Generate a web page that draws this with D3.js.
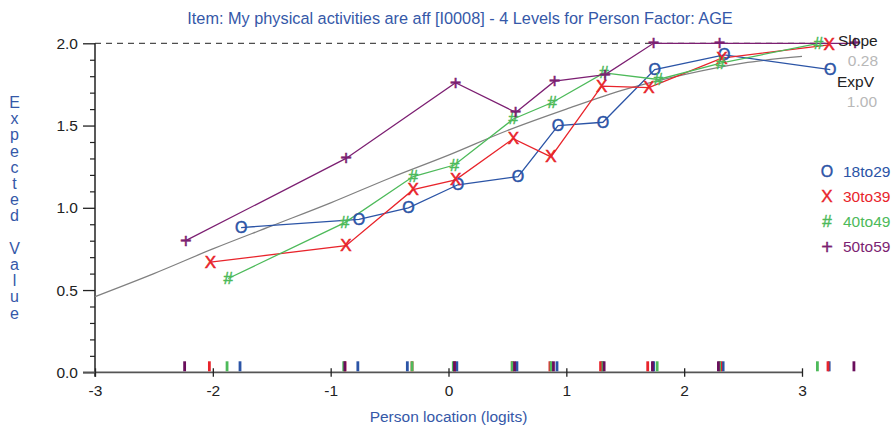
<!DOCTYPE html>
<html>
<head>
<meta charset="utf-8">
<script src="https://cdn.jsdelivr.net/npm/d3@7"></script>
<style>
  html, body { margin: 0; padding: 0; background: #fff; }
  svg { display: block; }
  text { font-family: "Liberation Sans", Arial, Helvetica, sans-serif; }
</style>
</head>
<body>
<svg id="chart" width="895" height="426"></svg>
<script>
// ---------------- data ----------------
const titleText = "Item: My physical activities are aff [I0008] - 4 Levels for Person Factor: AGE";
const xLabel = "Person location (logits)";
const yLabel = "Expected Value";
const xTicks = [-3, -2, -1, 0, 1, 2, 3];
const yTicks = [0.0, 0.5, 1.0, 1.5, 2.0];
const groups = ["18to29", "30to39", "40to49", "50to59"];
const glyphs = ["O", "X", "#", "+"];

// class-interval locations (logits) and observed means, per group
const loc18to29 = [-1.76, -0.76, -0.34, 0.08, 0.59, 0.93, 1.31, 1.75, 2.34, 3.24];
const obs18to29 = [0.88, 0.93, 1.00, 1.14, 1.19, 1.50, 1.52, 1.84, 1.93, 1.84];
const loc30to39 = [-2.02, -0.87, -0.30, 0.06, 0.55, 0.87, 1.30, 1.70, 2.32, 3.23];
const obs30to39 = [0.67, 0.77, 1.11, 1.17, 1.42, 1.31, 1.74, 1.73, 1.91, 1.99];
const loc40to49 = [-1.87, -0.88, -0.30, 0.05, 0.55, 0.88, 1.32, 1.78, 2.31, 3.14];
const obs40to49 = [0.57, 0.91, 1.19, 1.26, 1.54, 1.64, 1.82, 1.78, 1.88, 2.00];
const loc50to59 = [-2.23, -0.87, 0.06, 0.57, 0.90, 1.33, 1.74, 2.30, 3.45];
const obs50to59 = [0.80, 1.30, 1.76, 1.58, 1.77, 1.81, 2.00, 2.00, 2.00];

// expected value curve
const curveLoc = [-3, -2.5, -2, -1.5, -1, -0.5, 0, 0.5, 1, 1.5, 2, 2.5, 3];
const curveVal = [0.46, 0.60, 0.75, 0.89, 1.03, 1.18, 1.32, 1.47, 1.60, 1.72, 1.81, 1.88, 1.92];

const slopeLabel = "Slope", slopeValue = "0.28";
const expvLabel = "ExpV", expvValue = "1.00";
const maxScore = 2.0;

// ---------------- styles ----------------
const colors = ["#2b54a6", "#e8242b", "#4dba5a", "#7c1f72"];
const rugColors = ["#2b54a6", "#e8242b", "#4dba5a", "#6a0e5c"];
const glyphSize = [16, 17, 17, 20];
const blueText = "#3558a8";

const series = [
  { loc: loc18to29, obs: obs18to29 },
  { loc: loc30to39, obs: obs30to39 },
  { loc: loc40to49, obs: obs40to49 },
  { loc: loc50to59, obs: obs50to59 }
].map((s, i) => ({ name: groups[i], glyph: glyphs[i], color: colors[i], rug: rugColors[i], size: glyphSize[i],
  points: s.loc.map((l, j) => ({ x: l, y: s.obs[j] })) }));

const svg = d3.select("#chart");
const x = d3.scaleLinear().domain([-3, 3]).range([95, 802]);
const y = d3.scaleLinear().domain([0, 2]).range([372.3, 43.3]);

// title
svg.append("text").attr("x", 460).attr("y", 23.5).attr("text-anchor", "middle")
  .attr("font-size", 16.3).attr("fill", blueText).text(titleText);

// dashed max line
svg.append("line").attr("x1", x(-3)).attr("x2", x(3.2)).attr("y1", y(maxScore)).attr("y2", y(maxScore))
  .attr("stroke", "#222").attr("stroke-width", 1).attr("stroke-dasharray", "6,5");

// y axis
const yAxis = d3.axisLeft(y).tickValues(yTicks).tickFormat(d3.format(".1f")).tickSize(12).tickPadding(5);
const gy = svg.append("g").attr("transform", `translate(${x(-3)},0)`).call(yAxis);
gy.select(".domain").remove();
gy.selectAll(".tick line").attr("stroke", "#222").attr("stroke-width", 1.3);
gy.selectAll(".tick text").attr("font-size", 15.5).attr("fill", "#222")
  .attr("font-family", "Liberation Sans, Arial, sans-serif");
const yMinor = d3.axisLeft(y).tickValues(d3.range(0, 2.0001, 0.1).filter(v => Math.round(v * 10) % 5 !== 0))
  .tickSize(5).tickFormat("");
const gym = svg.append("g").attr("transform", `translate(${x(-3)},0)`).call(yMinor);
gym.select(".domain").remove();
gym.selectAll(".tick line").attr("stroke", "#222").attr("stroke-width", 1.2);
svg.append("line").attr("x1", x(-3)).attr("x2", x(-3)).attr("y1", y(2)).attr("y2", y(0) + 4.5)
  .attr("stroke", "#222").attr("stroke-width", 1.5);

// x axis
svg.append("line").attr("x1", x(-3) - 12).attr("x2", x(3)).attr("y1", y(0)).attr("y2", y(0))
  .attr("stroke", "#555").attr("stroke-width", 1.8);
const xAxis = d3.axisBottom(x).tickValues(xTicks).tickFormat(d3.format("d")).tickSize(4.5).tickPadding(8);
const gx = svg.append("g").attr("transform", `translate(0,${y(0)})`).call(xAxis);
gx.select(".domain").remove();
gx.selectAll(".tick line").attr("stroke", "#222").attr("stroke-width", 1.3).attr("y1", -4);
gx.selectAll(".tick text").attr("font-size", 15.5).attr("fill", "#222")
  .attr("font-family", "Liberation Sans, Arial, sans-serif").text(d => d < 0 ? "-" + Math.abs(d) : d);

// axis titles
svg.append("text").attr("x", x(0)).attr("y", 422).attr("text-anchor", "middle")
  .attr("font-size", 15.5).attr("fill", blueText).text(xLabel);
const yl = svg.append("text").attr("text-anchor", "middle").attr("font-size", 16).attr("fill", blueText);
yLabel.split("").forEach((ch, i) => {
  yl.append("tspan").attr("x", 14.5).attr("y", 108 + i * 16.2).text(ch === " " ? "\u00a0" : ch);
});

// expected curve
const line = d3.line().x(d => x(d.x)).y(d => y(d.y));
svg.append("path").datum(curveLoc.map((l, i) => ({ x: l, y: curveVal[i] })))
  .attr("d", line.curve(d3.curveMonotoneX)).attr("fill", "none").attr("stroke", "#808080").attr("stroke-width", 1.2);

// rug marks
series.forEach(s => {
  svg.append("g").selectAll("rect").data(s.points).join("rect")
    .attr("x", d => x(d.x) - 2.5).attr("y", y(0) - 11).attr("width", 2.8).attr("height", 10)
    .attr("fill", s.rug);
});

// series lines
const sline = d3.line().x(d => x(d.x)).y(d => y(d.y));
series.forEach(s => {
  svg.append("path").datum(s.points).attr("d", sline).attr("fill", "none")
    .attr("stroke", s.color).attr("stroke-width", 1.3);
});
// markers
series.forEach(s => {
  svg.append("g").selectAll("text").data(s.points).join("text")
    .attr("x", d => x(d.x)).attr("y", d => y(d.y))
    .attr("text-anchor", "middle").attr("dominant-baseline", "central")
    .attr("font-size", s.size).attr("fill", s.color)
    .attr("stroke", s.color).attr("stroke-width", 0.5).text(s.glyph);
});

// slope / expv labels
svg.append("text").attr("x", 838).attr("y", 45.5).attr("font-size", 15.5).attr("fill", "#222").text(slopeLabel);
svg.append("text").attr("x", 878).attr("y", 66).attr("text-anchor", "end").attr("font-size", 15.5).attr("fill", "#b8b8b8").text(slopeValue);
svg.append("text").attr("x", 837).attr("y", 87).attr("font-size", 15.5).attr("fill", "#222").text(expvLabel);
svg.append("text").attr("x", 877).attr("y", 107).attr("text-anchor", "end").attr("font-size", 15.5).attr("fill", "#b8b8b8").text(expvValue);

// legend
series.forEach((s, i) => {
  const ly = 171 + i * 25.3;
  svg.append("text").attr("x", 827).attr("y", ly).attr("text-anchor", "middle").attr("dominant-baseline", "central")
    .attr("font-size", s.size).attr("fill", s.color).attr("stroke", s.color).attr("stroke-width", 0.4).text(s.glyph);
  svg.append("text").attr("x", 843).attr("y", ly).attr("dominant-baseline", "central")
    .attr("font-size", 15.5).attr("fill", s.color).text(s.name);
});
</script>
</body>
</html>
